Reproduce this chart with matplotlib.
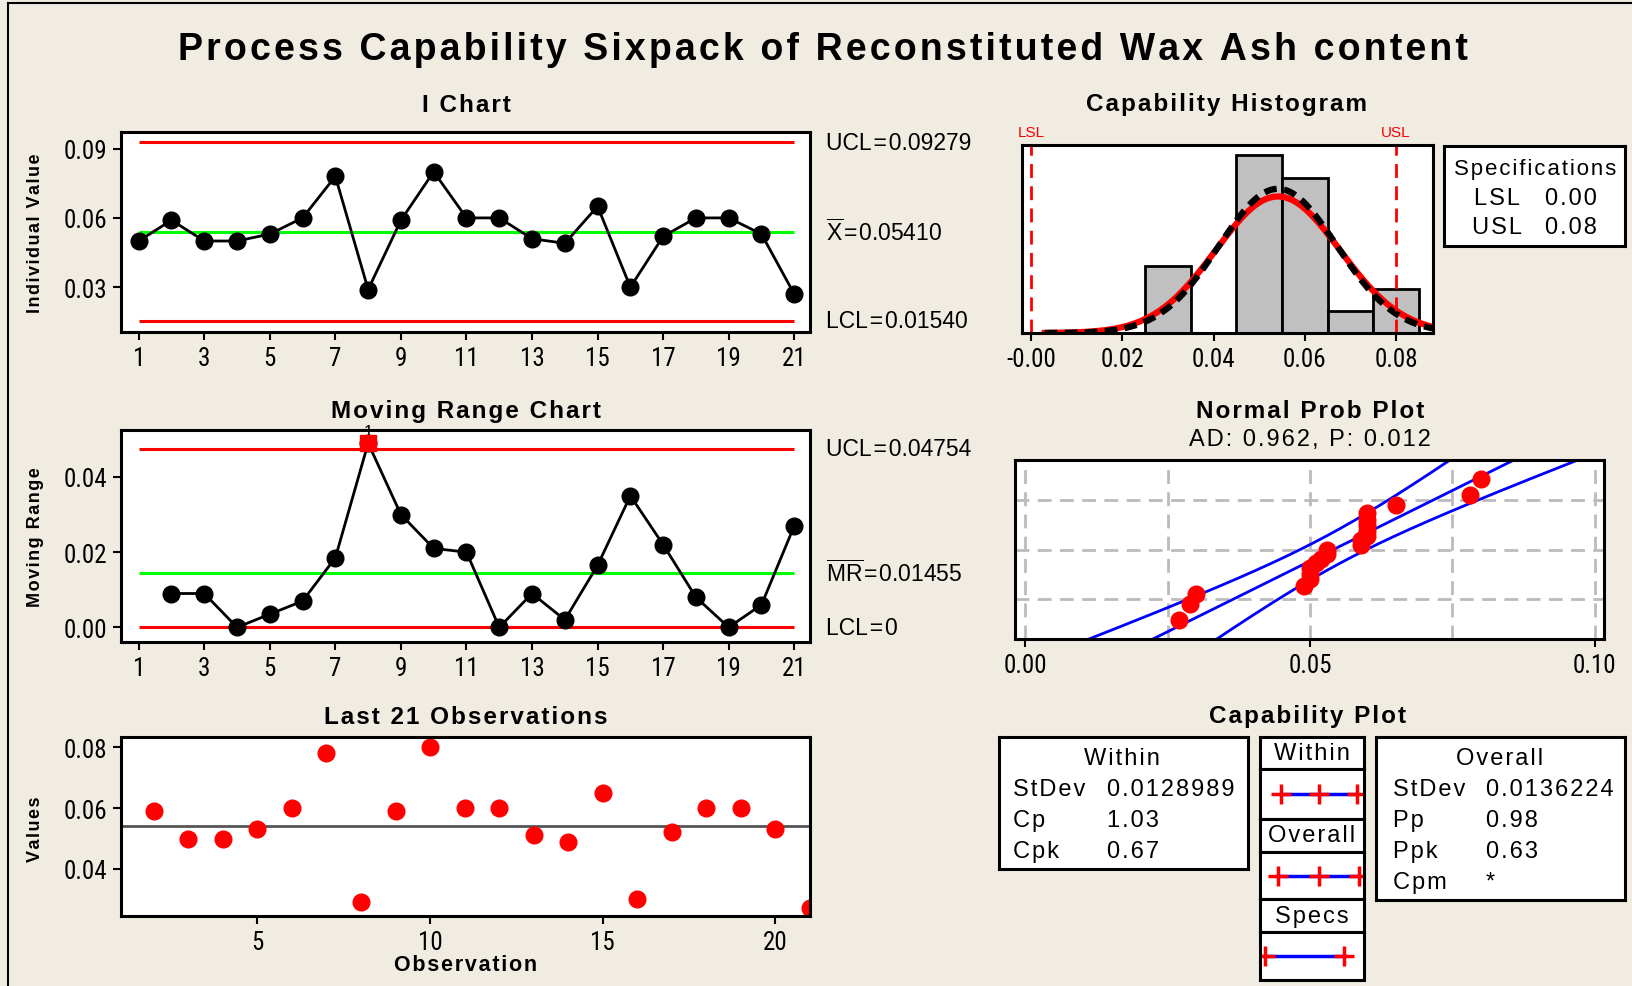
import matplotlib
matplotlib.use('Agg')
import matplotlib.pyplot as plt
import numpy as np
from statistics import NormalDist
from matplotlib import font_manager
from matplotlib.font_manager import FontProperties
from matplotlib.lines import Line2D
from matplotlib import transforms

# data
obs = np.arange(1, 22)
values = [0.050, 0.059, 0.050, 0.050, 0.053, 0.060, 0.078, 0.029, 0.059, 0.080,
          0.060, 0.060, 0.051, 0.049, 0.065, 0.030, 0.052, 0.060, 0.060, 0.053, 0.027]
mr_obs = np.arange(2, 22)
mr = [0.009, 0.009, 0.000, 0.0035, 0.007, 0.0185, 0.049, 0.030, 0.021, 0.020,
      0.000, 0.009, 0.002, 0.0165, 0.035, 0.022, 0.008, 0.000, 0.006, 0.027]

mean = 0.05410
i_ucl, i_lcl = 0.09279, 0.01540
mr_bar, mr_ucl, mr_lcl = 0.01455, 0.04754, 0.0
lsl, usl = 0.0, 0.08
sd_within, sd_overall = 0.0128989, 0.0136224
bin_edges = [0.025, 0.035, 0.045, 0.055, 0.065, 0.075, 0.085]
within_stats = [('StDev', '0.0128989'), ('Cp', '1.03'), ('Cpk', '0.67')]
overall_stats = [('StDev', '0.0136224'), ('Pp', '0.98'), ('Ppk', '0.63'), ('Cpm', '*')]

plt.rcParams['font.family'] = ['Liberation Sans', 'DejaVu Sans']
plt.rcParams['mathtext.fontset'] = 'custom'
plt.rcParams['mathtext.rm'] = 'Liberation Sans'

# a condensed face for the tick labels, if one is installed
pref = ['Liberation Sans Narrow', 'Roboto Condensed', 'DejaVu Sans Condensed',
        'Noto Sans Condensed', 'Open Sans Condensed']
cands = []
for f in font_manager.fontManager.ttflist:
    tag = (f.name + ' ' + f.fname.split('/')[-1]).replace('-', ' ')
    if ('Narrow' in tag or 'Condensed' in tag) and f.style == 'normal' \
            and f.weight in (400, 'normal', 'regular') and 'Semi' not in tag \
            and 'Extra' not in tag and 'Ultra' not in tag:
        rank = len(pref)
        for j, p in enumerate(pref):
            if p.split()[0] in tag:
                rank = j
                break
        cands.append((rank, f.fname))
cands.sort()
TICKFP = FontProperties(fname=cands[0][1], size=18) if cands else FontProperties(size=17)

BG = '#F0ECE2'
W, H = 1633, 987
fig = plt.figure(figsize=(W / 100, H / 100), dpi=100, facecolor=BG)


def box(l, t, r, b):
    return [l / W, 1 - b / H, (r - l) / W, (b - t) / H]


def sp(s):
    # Minitab spreads its letters a little
    return '\u200a'.join(s)


def ft(x, y, s, **kw):
    kw.setdefault('ha', 'center')
    kw.setdefault('va', 'center')
    return fig.text(x / W, 1 - y / H, s, **kw)


def style(ax):
    ax.set_facecolor('white')
    for s in ax.spines.values():
        s.set_linewidth(2.2)
    ax.tick_params(direction='out', length=6, width=1.5, pad=4)


def bare(ax):
    ax.set_facecolor('white')
    ax.set_xticks([])
    ax.set_yticks([])
    for s in ax.spines.values():
        s.set_linewidth(2.2)


TITLE = dict(fontsize=17.5, fontweight='bold')
YLAB = dict(fontsize=13, fontweight='bold', rotation=90)
LAB = dict(fontsize=16.5, ha='left', va='center')
EQ = '\u200a=\u200a'
tick_axes = []

# frame of the figure
fig.add_artist(Line2D([8 / W, 8 / W], [0, 1 - 4 / H], color='black', lw=1.5))
fig.add_artist(Line2D([8 / W, 1], [1 - 4 / H, 1 - 4 / H], color='black', lw=1.5))

ft(823, 50, sp('Process Capability Sixpack of Reconstituted Wax Ash content'),
   fontsize=27, fontweight='bold')

# ---- I chart
ax = fig.add_axes(box(121, 133, 810, 333))
style(ax)
tick_axes.append(ax)
ax.hlines([i_ucl, i_lcl], 1, 21, color='red', lw=2.2)
ax.hlines(mean, 1, 21, color='#00FF00', lw=2.2)
ax.plot(obs, values, '-o', color='black', lw=2, ms=12)
ax.set_xlim(0.46, 21.48)
ax.set_ylim(0.0106, 0.0972)
ax.set_xticks(range(1, 22, 2))
ax.set_yticks([0.03, 0.06, 0.09])
ax.set_yticklabels(['0.03', '0.06', '0.09'])
tr = transforms.blended_transform_factory(ax.transAxes, ax.transData)
ax.text(1.023, i_ucl, 'UCL' + EQ + '0.09279', transform=tr, **LAB)
ax.text(1.023, mean, r'$\overline{\mathrm{X}}$' + EQ + '0.05410', transform=tr, **LAB)
ax.text(1.023, i_lcl, 'LCL' + EQ + '0.01540', transform=tr, **LAB)
ft(466, 105, sp('I Chart'), **TITLE)
ft(36, 233, sp('Individual Value'), **YLAB)

# ---- Moving range chart
ax = fig.add_axes(box(121, 431, 810, 643))
style(ax)
tick_axes.append(ax)
ax.hlines([mr_ucl, mr_lcl], 1, 21, color='red', lw=2.2)
ax.hlines(mr_bar, 1, 21, color='#00FF00', lw=2.2)
ax.plot(mr_obs, mr, '-o', color='black', lw=2, ms=12)
ax.plot(mr_obs[6], mr[6], 's', color='red', ms=11, zorder=5)
ax.text(mr_obs[6], mr[6] + 0.0012, '1', ha='center', va='bottom', fontsize=12)
ax.set_xlim(0.46, 21.48)
ax.set_ylim(-0.0039, 0.0525)
ax.set_xticks(range(1, 22, 2))
ax.set_yticks([0.0, 0.02, 0.04])
ax.set_yticklabels(['0.00', '0.02', '0.04'])
tr = transforms.blended_transform_factory(ax.transAxes, ax.transData)
ax.text(1.023, mr_ucl, 'UCL' + EQ + '0.04754', transform=tr, **LAB)
ax.text(1.023, mr_bar, r'$\overline{\mathrm{MR}}$' + EQ + '0.01455', transform=tr, **LAB)
ax.text(1.023, mr_lcl, 'LCL' + EQ + '0', transform=tr, **LAB)
ft(466, 412, sp('Moving Range Chart'), **TITLE)
ft(36, 537, sp('Moving Range'), **YLAB)

# ---- Last 21 observations
ax = fig.add_axes(box(121, 738, 810, 917))
style(ax)
tick_axes.append(ax)
ax.axhline(mean, color='#555555', lw=2)
ax.plot(obs[1:], values[1:], 'o', color='red', ms=12)
ax.set_xlim(1.05, 21.0)
ax.set_ylim(0.0245, 0.0834)
ax.set_xticks([5, 10, 15, 20])
ax.set_yticks([0.04, 0.06, 0.08])
ax.set_yticklabels(['0.04', '0.06', '0.08'])
ft(466, 717, sp('Last 21 Observations'), **TITLE)
ft(466, 966, sp('Observation'), fontsize=15.5, fontweight='bold')
ft(36, 829, sp('Values'), **YLAB)

# ---- Capability histogram
ax = fig.add_axes(box(1022, 146, 1433, 334))
style(ax)
tick_axes.append(ax)
ax.hist(values, bins=bin_edges, color='#C0C0C0', edgecolor='black', lw=2)
xs = np.linspace(0.003, 0.088, 300)
binw = bin_edges[1] - bin_edges[0]
n = len(values)
for sd, col, ls in [(sd_overall, 'red', '-'), (sd_within, 'black', (0, (2, 1.2)))]:
    ax.plot(xs, [n * binw * NormalDist(mean, sd).pdf(x) for x in xs],
            color=col, lw=4.5, ls=ls)
ax.axvline(lsl, color='red', lw=2, ls=(0, (5, 3)))
ax.axvline(usl, color='red', lw=2, ls=(0, (5, 3)))
trh = transforms.blended_transform_factory(ax.transData, ax.transAxes)
ax.text(lsl, 1.03, 'LSL', color='red', fontsize=11, ha='center', va='bottom', transform=trh)
ax.text(usl, 1.03, 'USL', color='red', fontsize=11, ha='center', va='bottom', transform=trh)
ax.set_xlim(-0.002, 0.0881)
ax.set_ylim(0, 8.47)
ax.set_yticks([])
ax.set_xticks([0, 0.02, 0.04, 0.06, 0.08])
ax.set_xticklabels(['-0.00', '0.02', '0.04', '0.06', '0.08'])
ft(1227, 105, sp('Capability Histogram'), **TITLE)

ax = fig.add_axes(box(1444, 147, 1625, 247))
bare(ax)
ft(1535, 169, sp('Specifications'), fontsize=16)
ft(1497, 199, sp('LSL'), fontsize=17)
ft(1545, 199, sp(f'{lsl:.2f}'), fontsize=17, ha='left')
ft(1497, 228, sp('USL'), fontsize=17)
ft(1545, 228, sp(f'{usl:.2f}'), fontsize=17, ha='left')

# ---- Normal probability plot
ax = fig.add_axes(box(1015, 461, 1604, 640))
style(ax)
tick_axes.append(ax)
srt = np.sort(values)
pp = [(i - 0.3) / (n + 0.4) for i in range(1, n + 1)]
zq = [NormalDist().inv_cdf(p) for p in pp]
zz = np.linspace(-2.5, 2.5, 200)
fit = mean + sd_overall * zz
hw = 1.96 * sd_overall * np.sqrt(1 / n + zz ** 2 / (2 * n))
for line in (fit - hw, fit, fit + hw):
    ax.plot(line, zz, color='blue', lw=2)
ax.plot(srt, zq, 'o', color='red', ms=12, zorder=5)
ax.set_xlim(-0.0018, 0.1016)
ax.set_ylim(-2.326, 2.326)
ax.set_yticks([])
ax.set_xticks([0, 0.05, 0.10])
ax.set_xticklabels(['0.00', '0.05', '0.10'])
for gx in [0, 0.025, 0.05, 0.075, 0.10]:
    ax.axvline(gx, color='#BBBBBB', lw=2, ls=(0, (5, 3)), zorder=0)
for gz in [-1.2816, 0, 1.2816]:
    ax.axhline(gz, color='#BBBBBB', lw=2, ls=(0, (5, 3)), zorder=0)
ft(1310, 412, sp('Normal Prob Plot'), **TITLE)
ft(1310, 440, sp('AD: 0.962, P: 0.012'), fontsize=17)

# ---- Capability plot
ft(1308, 717, sp('Capability Plot'), **TITLE)
ax = fig.add_axes(box(999, 738, 1248, 870))
bare(ax)
ft(1122, 759, sp('Within'), fontsize=17)
for k, (a, b) in enumerate(within_stats):
    ft(1013, 790 + 31 * k, sp(a), fontsize=17, ha='left')
    ft(1107, 790 + 31 * k, sp(b), fontsize=17, ha='left')

ax = fig.add_axes(box(1376, 738, 1625, 901))
bare(ax)
ft(1500, 759, sp('Overall'), fontsize=17)
for k, (a, b) in enumerate(overall_stats):
    ft(1393, 790 + 31 * k, sp(a), fontsize=17, ha='left')
    ft(1486, 790 + 31 * k, sp(b), fontsize=17, ha='left')

segs = [('Within', 738, 770), (None, 770, 820), ('Overall', 820, 853),
        (None, 853, 900), ('Specs', 900, 933), (None, 933, 981)]
intervals = [[mean - 3 * sd_within, mean, mean + 3 * sd_within],
             [mean - 3 * sd_overall, mean, mean + 3 * sd_overall],
             [lsl, usl]]
k = 0
for label, t, b in segs:
    ax = fig.add_axes(box(1260, t, 1364, b))
    bare(ax)
    ax.set_xlim(-0.0054, 0.0998)
    ax.set_ylim(0, 1)
    if label:
        ax.text(0.5, 0.5, sp(label), fontsize=17, ha='center', va='center',
                transform=ax.transAxes)
    else:
        pts = intervals[k]
        ax.plot([pts[0], pts[-1]], [0.5, 0.5], color='blue', lw=2.5)
        ax.plot(pts, [0.5] * len(pts), '+', color='red', ms=14, mew=2.5)
        k += 1

for ax in tick_axes:
    for lab in ax.get_xticklabels() + ax.get_yticklabels():
        lab.set_fontproperties(TICKFP)

fig.savefig('out.png', dpi=100, facecolor=BG)
